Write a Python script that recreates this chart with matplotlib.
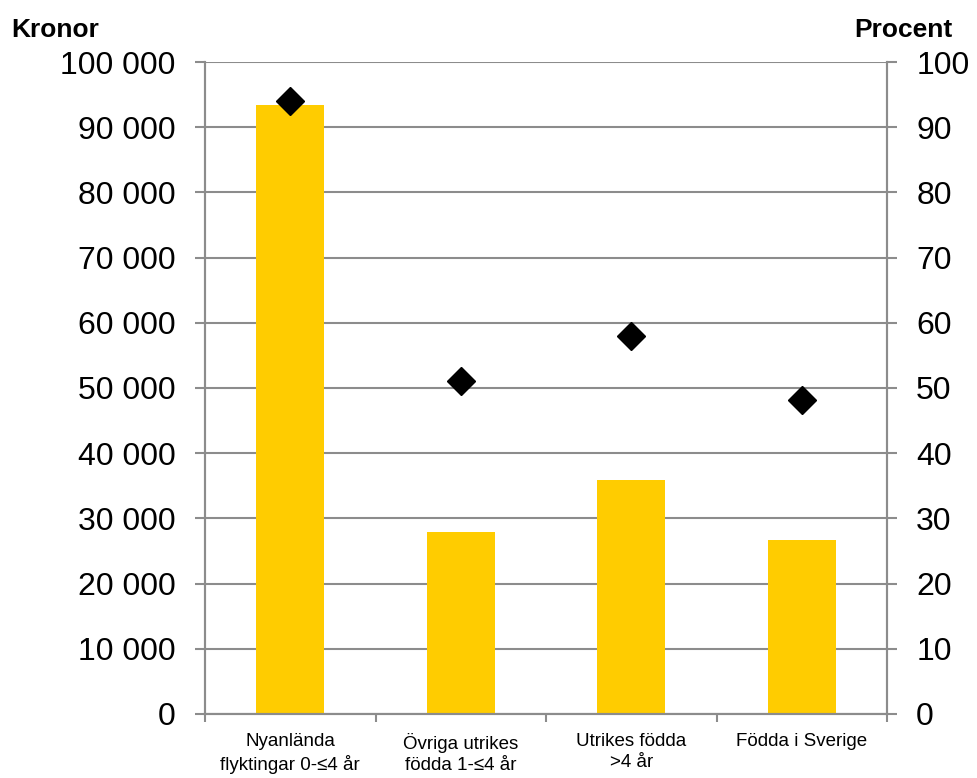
import matplotlib.pyplot as plt
import numpy as np

plt.rcParams['font.family'] = ['Liberation Sans', 'DejaVu Sans']

# categories and values
categories = ["Nyanlända\nflyktingar 0-≤4 år", "Övriga utrikes\nfödda 1-≤4 år",
              "Utrikes födda\n>4 år", "Födda i Sverige"]
kronor = [93400, 27900, 35900, 26700]
procent = [94.0, 51.1, 58.0, 48.2]

gray = "#8c8c8c"
yellow = "#ffcc00"

fig = plt.figure(figsize=(9.78, 7.78), dpi=100)
ax = fig.add_axes([0.2096, 0.0823, 0.6974, 0.8380])
x = np.arange(len(categories))

ax.bar(x, kronor, width=0.40, color=yellow, zorder=2)
ax.set_ylim(0, 100000)
ax.set_xlim(-0.5, len(categories) - 0.5)
ax.set_yticks(np.arange(0, 100001, 10000))
ax.set_yticklabels([f"{v:,}".replace(",", " ") for v in range(0, 100001, 10000)])
ax.grid(axis="y", color=gray, linewidth=1.5, zorder=0)
ax.set_axisbelow(True)

# category boundaries as ticks, labels at the centres
ax.set_xticks(np.arange(-0.5, len(categories), 1.0))
ax.set_xticklabels([])
ax.set_xticks(x, minor=True)
ax.set_xticklabels(categories, minor=True, fontsize=13.5, linespacing=1.3)
ax.tick_params(axis="x", which="minor", length=0, pad=14)
ax.tick_params(axis="x", which="major", length=6, color=gray, width=1.5)
ax.tick_params(axis="y", labelsize=23, length=7, color=gray, width=1.5, pad=14)

for s in ["left", "right", "bottom"]:
    ax.spines[s].set_color(gray)
    ax.spines[s].set_linewidth(1.5)
ax.spines["top"].set_visible(False)

ax2 = ax.twinx()
ax2.plot(x, procent, linestyle="none", marker="D", markersize=14, color="black", zorder=3)
ax2.set_ylim(0, 100)
ax2.set_yticks(np.arange(0, 101, 10))
ax2.tick_params(axis="y", labelsize=23, length=7, color=gray, width=1.5, pad=14)
for s in ["left", "right", "bottom"]:
    ax2.spines[s].set_color(gray)
    ax2.spines[s].set_linewidth(1.5)
ax2.spines["top"].set_visible(False)

fig.text(0.012, 0.962, "Kronor", fontsize=19, fontweight="bold", ha="left", va="center")
fig.text(0.974, 0.962, "Procent", fontsize=19, fontweight="bold", ha="right", va="center")

fig.savefig("out.png", dpi=100)
